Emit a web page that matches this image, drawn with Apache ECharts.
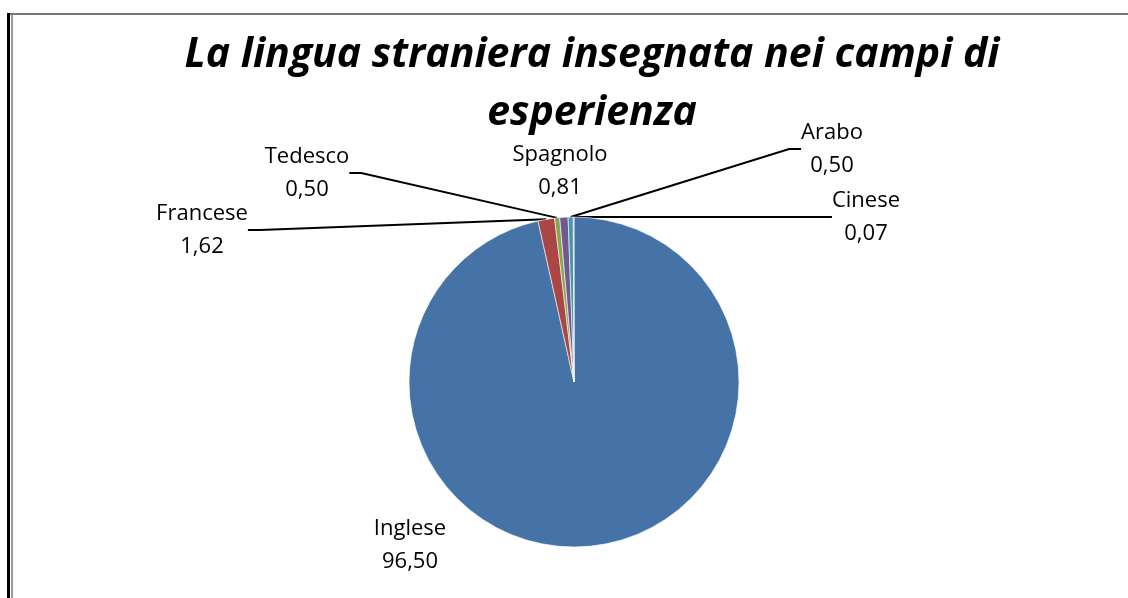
<!DOCTYPE html>
<html>
<head>
<meta charset="utf-8">
<script src="https://cdn.jsdelivr.net/npm/echarts@6/dist/echarts.min.js"></script>
<style>
  html, body { margin: 0; padding: 0; background: #fff; }
  #chart { width: 1128px; height: 598px; }
</style>
</head>
<body>
<div id="chart"></div>
<script>
// lingue e percentuali
const lingue = ['Inglese', 'Francese', 'Tedesco', 'Spagnolo', 'Arabo', 'Cinese']
const percentuali = [96.50, 1.62, 0.50, 0.81, 0.50, 0.07]
const colori = ['#4572A7', '#AA4643', '#89A54E', '#71588F', '#4198AF', '#DB843D']

// posizione delle etichette (centro del blocco di testo)
const posEtichette = {
  Inglese: [410, 545],
  Francese: [202, 230],
  Tedesco: [307, 173],
  Spagnolo: [560, 171],
  Arabo: [832, 149],
  Cinese: [866, 217]
}

const chart = echarts.init(document.getElementById('chart'))
const font = '"Open Sans", sans-serif'

chart.setOption({
  backgroundColor: '#fff',
  animation: false,
  title: {
    text: 'La lingua straniera insegnata nei campi di\nesperienza',
    left: 587,
    top: 21,
    textAlign: 'center',
    textStyle: {
      fontFamily: font,
      fontSize: 41,
      fontWeight: 'bold',
      fontStyle: 'italic',
      color: '#000',
      lineHeight: 58
    }
  },
  graphic: [
    { type: 'line', shape: { x1: 8.5, y1: 13, x2: 8.5, y2: 598 }, style: { stroke: '#000', lineWidth: 3 } },
    { type: 'line', shape: { x1: 12, y1: 14, x2: 12, y2: 598 }, style: { stroke: '#999', lineWidth: 2 } },
    { type: 'line', shape: { x1: 10, y1: 14, x2: 1128, y2: 14 }, style: { stroke: '#777', lineWidth: 2 } }
  ],
  series: [{
    type: 'pie',
    center: [574, 382],
    radius: 165,
    startAngle: 90,
    clockwise: true,
    avoidLabelOverlap: false,
    itemStyle: { borderColor: '#fff', borderWidth: 0.6 },
    label: {
      show: true,
      fontFamily: font,
      fontSize: 22,
      lineHeight: 33,
      color: '#000',
      align: 'center',
      formatter(p) {
        return p.name + '\n' + p.value.toFixed(2).replace('.', ',')
      }
    },
    labelLine: {
      show: true,
      length: 10,
      length2: 12,
      lineStyle: { color: '#000', width: 2 }
    },
    labelLayout(params) {
      const name = lingue[params.dataIndex]
      const pos = posEtichette[name]
      return { x: pos[0], y: pos[1], align: 'center', verticalAlign: 'middle' }
    },
    data: lingue.map((n, i) => ({
      name: n,
      value: percentuali[i],
      itemStyle: { color: colori[i] },
      labelLine: { show: n !== 'Inglese' && n !== 'Spagnolo' }
    }))
  }]
})
</script>
</body>
</html>
